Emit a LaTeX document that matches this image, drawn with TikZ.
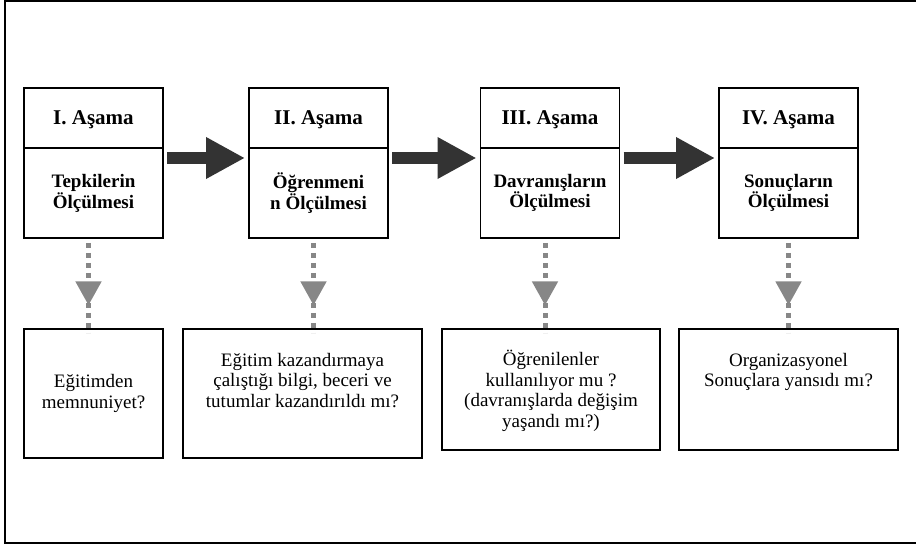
\documentclass[tikz,border=0pt]{standalone}
\usepackage{fontspec}
\setmainfont{Liberation Serif}
\usetikzlibrary{positioning,arrows.meta,decorations.markings}

\begin{document}
\begin{tikzpicture}[x=1pt, y=-1pt,
    hnode/.style={draw, line width=1.2pt, outer sep=0pt, inner sep=0pt, minimum width=139pt, minimum height=60pt, text depth=0pt, font=\fontsize{21}{24}\selectfont\bfseries},
    bnode/.style={draw, line width=1.2pt, outer sep=0pt, inner sep=0pt, minimum width=139pt, minimum height=90pt, align=center, font=\fontsize{19}{18.5}\selectfont\bfseries},
    qnode/.style={draw, line width=1.2pt, outer sep=0pt, inner sep=0pt, align=center, font=\fontsize{19}{20.5}\selectfont},
    qtext/.style={align=center, inner sep=0pt, font=\fontsize{19}{20.5}\selectfont},
    bigarrow/.style={draw=black!80, line width=12.5pt, -{Triangle[length=39pt,width=39pt]}, shorten <=4pt, shorten >=4pt},
    dotline/.style={draw=black!47, line width=5pt, dash pattern=on 5pt off 5pt, shorten <=5pt, shorten >=-4pt,
        postaction={decorate}, decoration={markings, mark=at position 0.74 with {\arrow[black!47]{Triangle[length=24pt,width=25pt]}}}}]
    \useasboundingbox (0,0) rectangle (916,545);
    \draw[line width=1.2pt] (5,1) rectangle (930,543);

    % asamalar
    \node[hnode] (h1) at (93.5,118) {I. Aşama};
    \node[bnode, below=0pt of h1] (b1) {Tepkilerin\\Ölçülmesi};
    \node[hnode] (h2) at (318.5,118) {II. Aşama};
    \node[bnode, below=0pt of h2] (b2) {Öğrenmeni\\n Ölçülmesi};
    \node[hnode] (h3) at (550,118) {III. Aşama};
    \node[bnode, below=0pt of h3] (b3) {Davranışların\\Ölçülmesi};
    \node[hnode] (h4) at (788.5,118) {IV. Aşama};
    \node[bnode, below=0pt of h4] (b4) {Sonuçların\\Ölçülmesi};

    % sorular
    \node[qnode, minimum width=139pt, minimum height=129pt] (q1) at (93.5,393.5) {Eğitimden\\memnuniyet?};
    \node[qnode, minimum width=239pt, minimum height=129pt] (q2) at (302.5,393.5) {};
    \node[qnode, minimum width=218pt, minimum height=121pt] (q3) at (551,389.5) {};
    \node[qnode, minimum width=219pt, minimum height=121pt] (q4) at (788.5,389.5) {};
    \node[qtext, below=24pt of q2.north] (t2) {Eğitim kazandırmaya\\çalıştığı bilgi, beceri ve\\tutumlar kazandırıldı mı?};
    \node[qtext, below=21pt of q3.north] (t3) {Öğrenilenler\\kullanılıyor mu ?\\(davranışlarda değişim\\yaşandı mı?)};
    \node[qtext, below=24pt of q4.north] (t4) {Organizasyonel\\Sonuçlara yansıdı mı?};

    \draw[bigarrow] ([yshift=-10pt]h1.south east) -- ([yshift=-10pt]h2.south west);
    \draw[bigarrow] ([yshift=-10pt]h2.south east) -- ([yshift=-10pt]h3.south west);
    \draw[bigarrow] ([yshift=-10pt]h3.south east) -- ([yshift=-10pt]h4.south west);

    \draw[dotline] ([xshift=-5pt]b1.south) -- ([xshift=-5pt]b1.south |- q1.north);
    \draw[dotline] ([xshift=-5pt]b2.south) -- ([xshift=-5pt]b2.south |- q2.north);
    \draw[dotline] ([xshift=-5pt]b3.south) -- ([xshift=-5pt]b3.south |- q3.north);
    \draw[dotline] (b4.south) -- (b4.south |- q4.north);
\end{tikzpicture}
\end{document}
